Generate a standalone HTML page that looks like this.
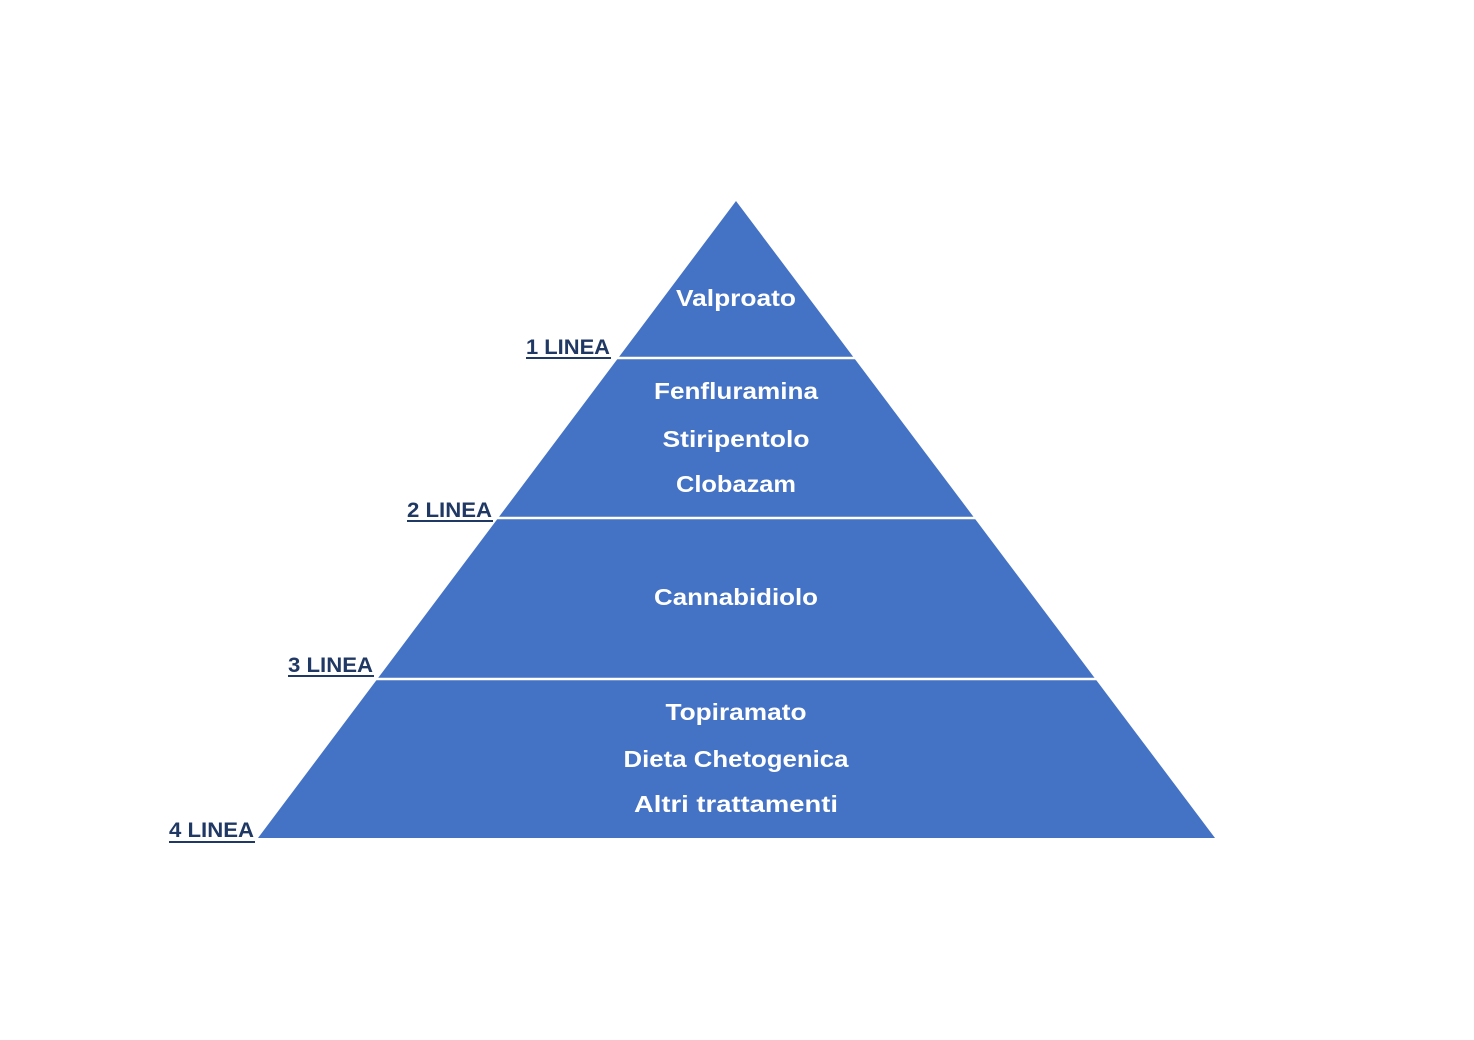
<!DOCTYPE html>
<html><head><meta charset="utf-8"><style>html,body{margin:0;padding:0;background:#fff}svg{display:block}</style></head>
<body>
<svg width="1474" height="1040" viewBox="0 0 1474 1040" xmlns="http://www.w3.org/2000/svg">
<polygon points="736,201 1215,838 258,838" fill="#4472C4"/>
<g stroke="#fff" stroke-width="2.5">
<line x1="600" y1="358" x2="870" y2="358"/>
<line x1="480" y1="518" x2="990" y2="518"/>
<line x1="360" y1="679" x2="1110" y2="679"/>
</g>
<g font-family="Liberation Sans, sans-serif" font-weight="bold" font-size="23" fill="#fff" text-anchor="middle">
<text x="736" y="306" textLength="120" lengthAdjust="spacingAndGlyphs">Valproato</text>
<text x="736" y="399" textLength="164" lengthAdjust="spacingAndGlyphs">Fenfluramina</text>
<text x="736" y="447" textLength="147" lengthAdjust="spacingAndGlyphs">Stiripentolo</text>
<text x="736" y="492" textLength="120" lengthAdjust="spacingAndGlyphs">Clobazam</text>
<text x="736" y="605" textLength="164" lengthAdjust="spacingAndGlyphs">Cannabidiolo</text>
<text x="736" y="720" textLength="141" lengthAdjust="spacingAndGlyphs">Topiramato</text>
<text x="736" y="767" textLength="225" lengthAdjust="spacingAndGlyphs">Dieta Chetogenica</text>
<text x="736" y="812" textLength="204" lengthAdjust="spacingAndGlyphs">Altri trattamenti</text>
</g>
<g font-family="Liberation Sans, sans-serif" font-weight="bold" font-size="21" fill="#203864">
<text x="526" y="354" textLength="84" lengthAdjust="spacingAndGlyphs">1 LINEA</text>
<text x="407" y="517" textLength="85" lengthAdjust="spacingAndGlyphs">2 LINEA</text>
<text x="288" y="672" textLength="85" lengthAdjust="spacingAndGlyphs">3 LINEA</text>
<text x="169" y="837" textLength="85" lengthAdjust="spacingAndGlyphs">4 LINEA</text>
</g>
<g stroke="#203864" stroke-width="2">
<line x1="526" y1="358" x2="611" y2="358"/>
<line x1="407" y1="521" x2="493" y2="521"/>
<line x1="288" y1="676" x2="374" y2="676"/>
<line x1="169" y1="842" x2="255" y2="842"/>
</g>
</svg>
</body></html>
